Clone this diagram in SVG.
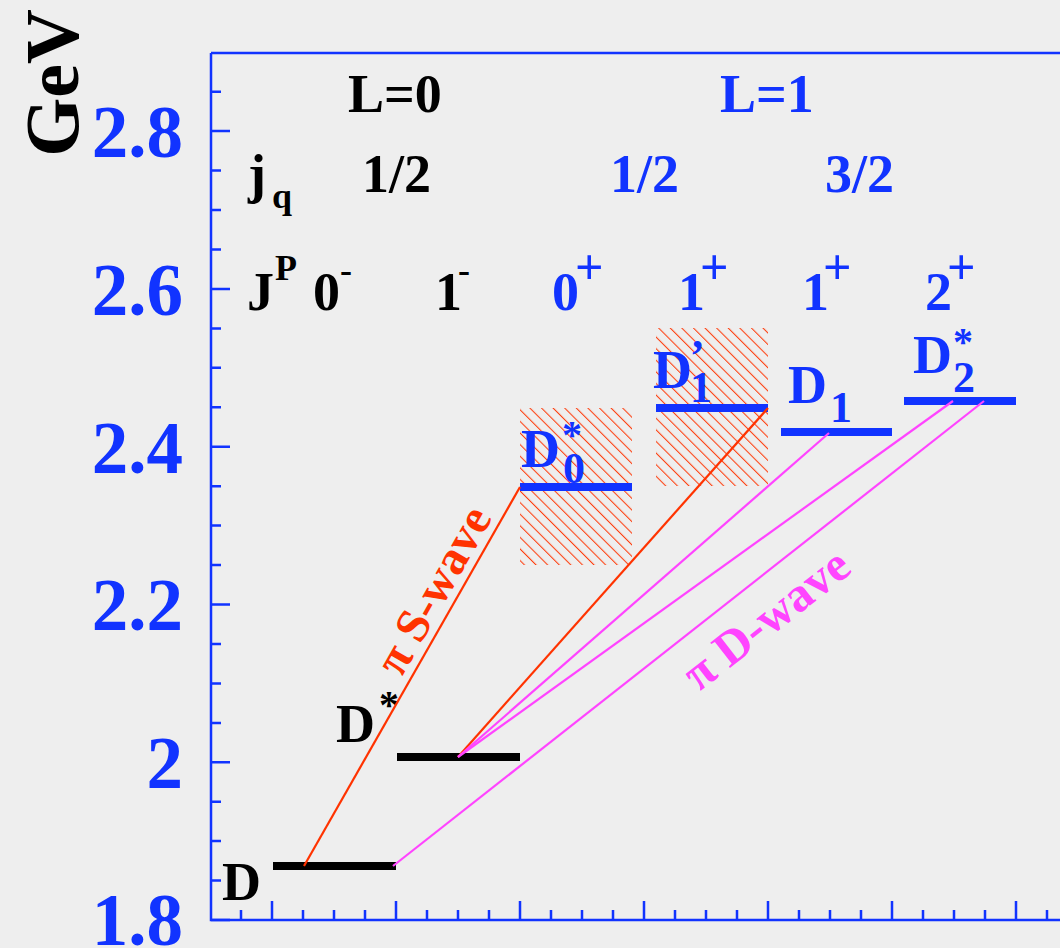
<svg xmlns="http://www.w3.org/2000/svg" width="1060" height="948" viewBox="0 0 1060 948">
<style>
text{font-family:"Liberation Serif","Times New Roman",serif;font-weight:bold}
.bk{fill:#000}
.bl{fill:#1133ff}
.big{font-size:54px}
.sub{font-size:44px}
.sup{font-size:36px}
.pl{font-size:50px}
.tl{font-size:73px;fill:#1133ff;text-anchor:end}
.ax{stroke:#1133ff;stroke-width:2.5;fill:none}
.barK{stroke:#000;stroke-width:8}
.barB{stroke:#1133ff;stroke-width:8}
.red{stroke:#ff3300;stroke-width:2.2}
.mag{stroke:#ff44ff;stroke-width:2.2}
</style>
<defs>
<pattern id="hatch" patternUnits="userSpaceOnUse" width="8.2" height="8.2" patternTransform="rotate(45)">
<line x1="0" y1="4" x2="8.2" y2="4" stroke="#ff3300" stroke-width="1"/>
</pattern>
</defs>
<rect width="1060" height="948" fill="#eeeeee"/>

<g id="axes">
<path class="ax" d="M211,53 V920 H1060 M211,53 H1060"/>
<path class="ax" d="M211,131.1 h19 M211,288.9 h19 M211,446.7 h19 M211,604.5 h19 M211,762.3 h19 M211,920 h19
M211,880.6 h10 M211,841.1 h10 M211,801.7 h10 M211,722.9 h10 M211,683.4 h10 M211,644 h10 M211,565.1 h10 M211,525.6 h10 M211,486.2 h10 M211,407.3 h10 M211,367.8 h10 M211,328.4 h10 M211,249.5 h10 M211,210 h10 M211,170.6 h10 M211,91.7 h10"/>
<path class="ax" d="M272,920 v-19 M396,920 v-19 M520,920 v-19 M644,920 v-19 M768,920 v-19 M892,920 v-19 M1016,920 v-19
M241,920 v-10 M303,920 v-10 M334,920 v-10 M365,920 v-10 M427,920 v-10 M458,920 v-10 M489,920 v-10 M551,920 v-10 M582,920 v-10 M613,920 v-10 M675,920 v-10 M706,920 v-10 M737,920 v-10 M799,920 v-10 M830,920 v-10 M861,920 v-10 M923,920 v-10 M954,920 v-10 M985,920 v-10 M1047,920 v-10"/>
<text class="tl" x="183" y="157">2.8</text>
<text class="tl" x="183" y="315">2.6</text>
<text class="tl" x="183" y="473">2.4</text>
<text class="tl" x="183" y="630">2.2</text>
<text class="tl" x="183" y="788">2</text>
<text class="tl" x="183" y="945">1.8</text>
<text class="bk" font-size="76" text-anchor="middle" transform="translate(78,83) rotate(-90)">GeV</text>
</g>

<g id="headers">
<text class="bk big" x="348" y="112">L=0</text>
<text class="bl big" x="720" y="112">L=1</text>
<text class="bk big" x="248" y="192">j</text>
<text class="bk sup" x="272" y="208">q</text>
<text class="bk big" x="362" y="192">1/2</text>
<text class="bl big" x="610" y="192">1/2</text>
<text class="bl big" x="825" y="192">3/2</text>
<text class="bk big" x="247" y="310">J</text>
<text class="bk sup" x="275" y="280">P</text>
<text class="bk big" x="313" y="310">0</text>
<text class="bk sup" x="340" y="282">-</text>
<text class="bk big" x="435" y="310">1</text>
<text class="bk sup" x="458" y="282">-</text>
<text class="bl big" x="552" y="310">0</text>
<text class="bl pl" x="575" y="284">+</text>
<text class="bl big" x="678" y="310">1</text>
<text class="bl pl" x="700" y="284">+</text>
<text class="bl big" x="802" y="310">1</text>
<text class="bl pl" x="823" y="284">+</text>
<text class="bl big" x="925" y="310">2</text>
<text class="bl pl" x="947" y="284">+</text>
</g>

<g id="D">
<line class="barK" x1="273" y1="866" x2="396" y2="866"/>
<text class="bk big" x="222" y="900">D</text>
</g>
<g id="Dstar">
<line class="barK" x1="397" y1="757" x2="520" y2="757"/>
<text class="bk big" x="336" y="742">D</text>
<text class="bk" font-size="40" x="379" y="718">*</text>
</g>
<g id="D0star">
<rect x="520" y="408" width="112" height="157" fill="url(#hatch)"/>
<line class="barB" x1="520" y1="487" x2="632" y2="487"/>
<text class="bl big" x="521" y="467">D</text>
<text class="bl" font-size="40" x="562" y="448">*</text>
<text class="bl sub" x="563" y="483">0</text>
</g>
<g id="D1prime">
<rect x="656" y="328" width="112" height="158" fill="url(#hatch)"/>
<line class="barB" x1="656" y1="408" x2="768" y2="408"/>
<text class="bl big" x="653" y="388">D</text>
<text class="bl sub" x="690" y="370">’</text>
<text class="bl sub" x="690" y="402">1</text>
</g>
<g id="D1">
<line class="barB" x1="781" y1="432" x2="892" y2="432"/>
<text class="bl big" x="788" y="403">D</text>
<text class="bl sub" x="830" y="422">1</text>
</g>
<g id="D2star">
<line class="barB" x1="904" y1="401" x2="1016" y2="401"/>
<text class="bl big" x="913" y="373">D</text>
<text class="bl" font-size="40" x="953" y="355">*</text>
<text class="bl sub" x="953" y="392">2</text>
</g>

<g id="connectors">
<line class="red" x1="304" y1="866" x2="520" y2="487"/>
<line class="red" x1="458" y1="757" x2="768" y2="408"/>
<line class="mag" x1="458" y1="757" x2="829" y2="433"/>
<line class="mag" x1="458" y1="757" x2="953" y2="401"/>
<line class="mag" x1="393" y1="866" x2="984" y2="401"/>
<text fill="#ff3300" font-size="48" text-anchor="middle" transform="translate(447,598) rotate(-60.3)">π S-wave</text>
<text fill="#ff44ff" font-size="49" text-anchor="middle" transform="translate(776,632) rotate(-38)">π D-wave</text>
</g>
</svg>
